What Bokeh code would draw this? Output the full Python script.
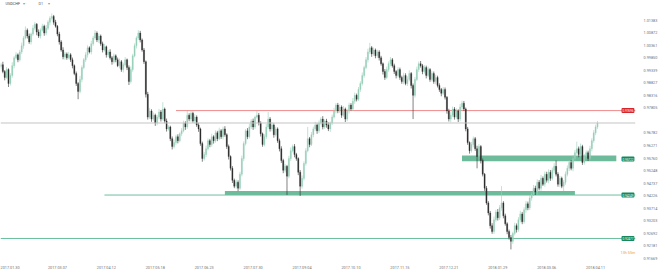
from bokeh.plotting import figure
from bokeh.models import Range1d, FixedTicker, Label, Span, ColumnDataSource, PrintfTickFormatter
from bokeh.embed import file_html
from bokeh.resources import INLINE

# ---------------- data ----------------
symbol = "USDCHF"
timeframe = "D1"
countdown = "13h 55m"
first_open = 0.9950
pip = 0.0001

closes = [
    0.9957, 0.9929, 0.9905, 0.9937, 0.9880, 0.9913, 0.9953, 0.9985, 0.9997, 0.9977,
    1.0009, 1.0034, 1.0066, 1.0098, 1.0074, 1.0050, 1.0082, 1.0106, 1.0122, 1.0090,
    1.0074, 1.0098, 1.0114, 1.0086, 1.0106, 1.0130, 1.0146, 1.0154, 1.0130, 1.0114,
    1.0082, 1.0050, 1.0017, 0.9989, 1.0001, 0.9985, 0.9997, 0.9977, 0.9953, 0.9921,
    0.9880, 0.9848, 0.9897, 0.9945, 0.9977, 0.9997, 1.0026, 1.0009, 1.0042, 1.0066,
    1.0086, 1.0058, 1.0074, 1.0042, 1.0017, 1.0030, 0.9997, 1.0009, 0.9985, 0.9969,
    0.9993, 0.9977, 0.9953, 0.9969, 0.9937, 0.9957, 0.9977, 0.9945, 0.9888, 0.9937,
    0.9993, 1.0034, 1.0066, 1.0086, 1.0058, 1.0017, 0.9969, 0.9836, 0.9743, 0.9768,
    0.9735, 0.9751, 0.9719, 0.9743, 0.9764, 0.9735, 0.9776, 0.9727, 0.9695, 0.9703,
    0.9655, 0.9623, 0.9639, 0.9663, 0.9647, 0.9675, 0.9687, 0.9719, 0.9703, 0.9751,
    0.9735, 0.9759, 0.9727, 0.9743, 0.9711, 0.9695, 0.9635, 0.9574, 0.9590, 0.9614,
    0.9647, 0.9631, 0.9663, 0.9647, 0.9679, 0.9655, 0.9687, 0.9663, 0.9695, 0.9671,
    0.9623, 0.9582, 0.9534, 0.9485, 0.9461, 0.9477, 0.9453, 0.9510, 0.9574, 0.9635,
    0.9687, 0.9663, 0.9703, 0.9727, 0.9703, 0.9743, 0.9751, 0.9719, 0.9675, 0.9631,
    0.9663, 0.9703, 0.9735, 0.9695, 0.9711, 0.9671, 0.9695, 0.9647, 0.9614, 0.9566,
    0.9526, 0.9542, 0.9502, 0.9574, 0.9606, 0.9623, 0.9590, 0.9574, 0.9518, 0.9461,
    0.9493, 0.9554, 0.9606, 0.9655, 0.9631, 0.9671, 0.9695, 0.9711, 0.9687, 0.9719,
    0.9735, 0.9703, 0.9727, 0.9711, 0.9695, 0.9719, 0.9743, 0.9768, 0.9792, 0.9768,
    0.9784, 0.9751, 0.9776, 0.9735, 0.9768, 0.9792, 0.9776, 0.9808, 0.9832, 0.9816,
    0.9856, 0.9880, 0.9913, 0.9945, 0.9977, 1.0009, 1.0026, 1.0001, 1.0017, 0.9993,
    1.0009, 0.9985, 0.9961, 0.9929, 0.9905, 0.9937, 0.9961, 0.9977, 0.9953, 0.9929,
    0.9913, 0.9937, 0.9905, 0.9888, 0.9913, 0.9880, 0.9897, 0.9921, 0.9872, 0.9832,
    0.9897, 0.9937, 0.9961, 0.9953, 0.9929, 0.9945, 0.9913, 0.9937, 0.9897, 0.9921,
    0.9888, 0.9905, 0.9872, 0.9856, 0.9840, 0.9856, 0.9824, 0.9768, 0.9735, 0.9751,
    0.9776, 0.9743, 0.9768, 0.9735, 0.9784, 0.9800, 0.9776, 0.9695, 0.9639, 0.9606,
    0.9631, 0.9655, 0.9614, 0.9582, 0.9623, 0.9566, 0.9510, 0.9453, 0.9393, 0.9352,
    0.9300, 0.9276, 0.9324, 0.9356, 0.9332, 0.9373, 0.9393, 0.9340, 0.9308, 0.9276,
    0.9252, 0.9236, 0.9268, 0.9300, 0.9284, 0.9324, 0.9348, 0.9316, 0.9365, 0.9389,
    0.9373, 0.9413, 0.9429, 0.9453, 0.9437, 0.9477, 0.9453, 0.9493, 0.9469, 0.9510,
    0.9485, 0.9518, 0.9493, 0.9526, 0.9542, 0.9510, 0.9469, 0.9493, 0.9461, 0.9477,
    0.9510, 0.9534, 0.9558, 0.9534, 0.9574, 0.9598, 0.9614, 0.9590, 0.9623, 0.9558,
    0.9582, 0.9598, 0.9574, 0.9614, 0.9647, 0.9679, 0.9703, 0.9719,
]

wick_up_pips = [
    8, 12, 6, 10, 5, 9, 14, 7, 11, 6,
    9, 13, 8, 15, 7, 10, 6, 12, 9, 5,
    11, 7, 10, 6, 13, 8, 9, 12, 6, 10,
    5, 9, 7, 11, 8, 6, 12, 7, 9, 5,
    8, 6, 14, 9, 7, 11, 10, 6, 13, 8,
    12, 7, 10, 6, 9, 12, 5, 8, 11, 7,
    10, 6, 9, 13, 7, 8, 11, 5, 9, 12,
    8, 10, 7, 12, 9, 6, 8, 5, 10, 13,
    7, 11, 6, 9, 12, 8, 28, 6, 10, 7,
    5, 9, 12, 8, 10, 6, 11, 9, 7, 17,
    8, 10, 6, 12, 7, 9, 5, 8, 11, 13,
    9, 7, 12, 6, 10, 8, 13, 7, 9, 11,
    6, 8, 5, 9, 7, 11, 8, 10, 12, 9,
    7, 11, 13, 8, 10, 6, 17, 9, 7, 5,
    10, 12, 29, 8, 11, 7, 9, 6, 8, 10,
    7, 9, 6, 11, 13, 8, 10, 7, 5, 9,
    12, 8, 10, 48, 7, 11, 9, 13, 6, 10,
    8, 12, 7, 9, 11, 6, 10, 13, 8, 9,
    11, 7, 12, 6, 9, 10, 8, 13, 11, 7,
    10, 9, 12, 8, 11, 13, 20, 7, 10, 6,
    9, 7, 8, 5, 10, 12, 9, 11, 7, 8,
    6, 10, 8, 7, 11, 9, 12, 13, 6, 8,
    10, 12, 9, 11, 7, 10, 8, 12, 6, 9,
    8, 11, 7, 9, 6, 10, 8, 5, 9, 12,
    10, 8, 11, 7, 13, 10, 9, 6, 8, 5,
    11, 9, 7, 12, 10, 6, 8, 5, 9, 7,
    8, 10, 13, 9, 12, 11, 68, 7, 9, 6,
    8, 10, 7, 12, 9, 11, 13, 8, 10, 12,
    9, 11, 8, 13, 10, 12, 9, 14, 8, 11,
    10, 12, 9, 11, 13, 24, 8, 10, 7, 9,
    11, 12, 10, 9, 13, 11, 29, 9, 12, 7,
    10, 9, 8, 12, 10, 11, 9, 8,
]

wick_dn_pips = [
    10, 7, 12, 6, 14, 8, 9, 11, 6, 10,
    7, 9, 12, 6, 10, 8, 11, 7, 9, 13,
    8, 10, 6, 11, 9, 7, 12, 8, 10, 6,
    9, 11, 7, 10, 12, 8, 6, 9, 11, 7,
    10, 32, 8, 12, 7, 9, 11, 6, 10, 8,
    7, 9, 12, 8, 10, 6, 11, 9, 7, 12,
    8, 10, 6, 11, 9, 12, 7, 10, 14, 8,
    9, 6, 11, 8, 10, 7, 9, 13, 10, 8,
    11, 7, 12, 9, 8, 10, 6, 9, 11, 7,
    10, 12, 8, 9, 11, 7, 10, 6, 12, 8,
    9, 11, 7, 10, 8, 12, 9, 13, 8, 10,
    7, 11, 9, 12, 8, 10, 6, 9, 11, 8,
    10, 12, 9, 11, 8, 10, 12, 7, 9, 11,
    8, 10, 7, 9, 12, 8, 6, 10, 11, 9,
    7, 9, 8, 11, 10, 12, 7, 9, 11, 10,
    12, 9, 77, 8, 10, 7, 11, 9, 12, 40,
    10, 8, 9, 7, 11, 6, 10, 8, 12, 9,
    7, 10, 8, 11, 9, 12, 8, 6, 10, 9,
    8, 11, 7, 12, 9, 10, 6, 8, 11, 9,
    7, 10, 8, 9, 6, 11, 9, 12, 8, 10,
    9, 11, 8, 12, 10, 7, 9, 11, 8, 10,
    12, 8, 10, 9, 11, 7, 10, 8, 12, 97,
    9, 7, 10, 8, 11, 9, 12, 7, 10, 8,
    9, 11, 8, 10, 12, 7, 9, 11, 10, 13,
    8, 10, 7, 12, 9, 11, 8, 10, 9, 12,
    8, 11, 9, 48, 10, 12, 9, 11, 8, 10,
    12, 9, 10, 8, 11, 9, 12, 10, 8, 11,
    9, 33, 10, 8, 12, 9, 11, 10, 8, 12,
    10, 9, 11, 8, 12, 10, 9, 11, 7, 10,
    9, 12, 10, 8, 11, 9, 10, 12, 8, 20,
    10, 9, 11, 8, 12, 10, 9, 11, 8, 10,
    9, 12, 10, 8, 11, 9, 10, 8,
]

x_tick_bars = [4, 30, 56, 82, 108, 134, 160, 186, 212, 238, 264, 290, 316]
x_tick_labels = ["2017.01.30", "2017.03.07", "2017.04.12", "2017.05.18", "2017.06.23",
                 "2017.07.30", "2017.09.04", "2017.10.10", "2017.11.15", "2017.12.21",
                 "2018.01.29", "2018.03.06", "2018.04.11"]
next_date_label = "2018.05.13"

y_ticks = [1.01383, 1.00872, 1.00361, 0.99850, 0.99339, 0.98827, 0.98316, 0.97805,
           0.96782, 0.96271, 0.95760, 0.95248, 0.94737, 0.94226, 0.93714, 0.93203,
           0.92692, 0.92181, 0.91669]

# resistance level (red)
resistance_level = 0.97696
resistance_from_bar = 93
# support zones (green bands)
zone_from_bar = [119, 245]
zone_to_bar = [305, 327]
zone_low = [0.9425, 0.9563]
zone_high = [0.9441, 0.9586]
zone_labels = ["0.94249", "0.95722"]
zone_label_level = [0.9425, 0.9572]
# support lines (thin green)
support_level = [0.9425, 0.92477]
support_from_bar = [55, -1]
support_labels = ["0.94249", "0.92477"]

# ---------------- derived candles ----------------
n = len(closes)
assert len(wick_up_pips) == n and len(wick_dn_pips) == n
idx = list(range(n))
opens = [first_open] + closes[:-1]
body_top = [max(o, c) for o, c in zip(opens, closes)]
body_bot = [min(o, c) for o, c in zip(opens, closes)]
highs = [t + u * pip for t, u in zip(body_top, wick_up_pips)]
lows = [b - d * pip for b, d in zip(body_bot, wick_dn_pips)]
UP = "#97cfb9"
DOWN = "#2e2e2e"
colors = [UP if c >= o else DOWN for o, c in zip(opens, closes)]
src = ColumnDataSource(dict(x=idx, top=body_top, bottom=body_bot, high=highs, low=lows, color=colors))

X_END = 337.2
p = figure(width=660, height=271, x_range=Range1d(-0.25, X_END), y_range=Range1d(0.9166, 1.02189),
           output_backend="svg", toolbar_location=None, y_axis_location="right",
           min_border_left=0, min_border_top=0, min_border_right=24, min_border_bottom=10)
p.outline_line_color = None
p.xgrid.visible = False
p.ygrid.visible = False
p.background_fill_color = "white"
p.border_fill_color = "white"

FONT = "Roboto"
for ax in (p.xaxis[0], p.yaxis[0]):
    ax.axis_line_color = None
    ax.major_tick_line_color = None
    ax.minor_tick_line_color = None
    ax.major_label_text_font_size = "3.8px"
    ax.major_label_text_color = "#707070"
    ax.major_label_text_font = FONT
    ax.major_label_standoff = 2
p.xaxis.major_label_standoff = 1
p.xaxis.ticker = FixedTicker(ticks=x_tick_bars)
p.xaxis.major_label_overrides = {b: s for b, s in zip(x_tick_bars, x_tick_labels)}
p.yaxis.ticker = FixedTicker(ticks=y_ticks)
p.yaxis.formatter = PrintfTickFormatter(format="%.5f")

# levels / zones under candles
GREEN_LINE = "#6bbf9f"
p.quad(left=zone_from_bar, right=zone_to_bar, bottom=zone_low, top=zone_high,
       fill_color="#5db48f", fill_alpha=0.9, line_color=None)
for lvl, start in zip(support_level, support_from_bar):
    x0 = start if start >= 0 else -0.25
    p.segment(x0=[x0], y0=[lvl], x1=[X_END], y1=[lvl], line_color=GREEN_LINE, line_width=1)
p.segment(x0=[resistance_from_bar], y0=[resistance_level], x1=[X_END], y1=[resistance_level],
          line_color="#ee8a8a", line_width=1)
p.add_layout(Span(location=closes[-1], dimension="width", line_color="#c4c4c4", line_width=1))

# candles
p.segment(x0="x", y0="high", x1="x", y1="low", source=src, line_color="color", line_width=0.6)
p.vbar(x="x", width=0.62, top="top", bottom="bottom", source=src,
       fill_color="color", line_color="color", line_width=0.3)


def price_box(level, text, color, x=621, size="3px"):
    p.add_layout(Label(x=x, y=level, x_units="screen", y_units="data", text=text,
                       text_font=FONT, text_font_size=size, text_color="white",
                       text_baseline="middle", text_align="left",
                       background_fill_color=color, padding=1, border_radius=1))


price_box(resistance_level, f"{resistance_level:.5f}", "#d7262b")
price_box(zone_label_level[1], zone_labels[1], "#16895c")
price_box(zone_label_level[0], zone_labels[0], "#16895c")
price_box(support_level[1], support_labels[1], "#16895c")
price_box(closes[-1], f"{closes[-1]:.5f}", "#6f7b7e", x=636, size="3.6px")

# header
p.add_layout(Label(x=5, y=255, x_units="screen", y_units="screen", text=symbol, text_font=FONT,
                   text_font_size="3.8px", text_color="#444444", text_baseline="middle"))
p.add_layout(Label(x=22, y=255, x_units="screen", y_units="screen", text="▾  ·", text_font=FONT,
                   text_font_size="3.8px", text_color="#999999", text_baseline="middle"))
p.add_layout(Label(x=38, y=255, x_units="screen", y_units="screen", text=timeframe, text_font=FONT,
                   text_font_size="3.8px", text_color="#666666", text_baseline="middle"))
p.add_layout(Label(x=47, y=255, x_units="screen", y_units="screen", text="▾", text_font=FONT,
                   text_font_size="3.8px", text_color="#999999", text_baseline="middle"))

# countdown & next date
p.add_layout(Label(x=620, y=6, x_units="screen", y_units="screen", text=countdown, text_font=FONT,
                   text_font_size="3.8px", text_color="#f0a13a", text_baseline="middle"))
p.add_layout(Label(x=644, y=-3, x_units="screen", y_units="screen", text=next_date_label, text_font=FONT,
                   text_font_size="3.8px", text_color="#707070", text_baseline="middle", text_align="center"))

open("out.html", "w").write(file_html(p, INLINE))
